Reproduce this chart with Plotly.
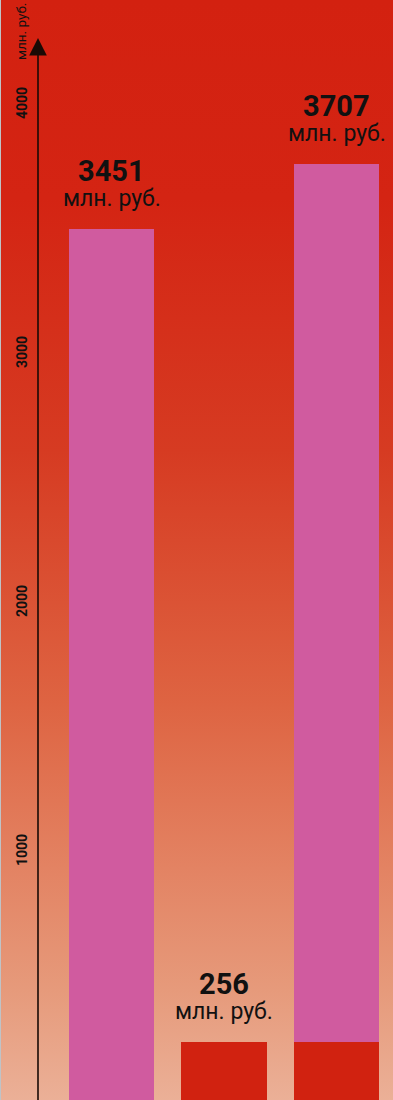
import base64
import plotly.graph_objects as go

# ---- data ----
categories = ["c1", "c2", "c3"]
pink_values = [3451, 0, 3451]
red_values = [0, 256, 256]
totals = [p + r for p, r in zip(pink_values, red_values)]
value_labels = [str(t) for t in totals]
unit_label = "млн. руб."
axis_title = "млн. руб."
tick_values = [1000, 2000, 3000, 4000]
tick_labels = ["1000", "2000", "3000", "4000"]

# ---- style ----
W, H = 393, 1100
PINK = "#D05B9F"
RED = "#D12210"
FONT = "Roboto, 'Liberation Sans', sans-serif"

# category spacing in px and first center
step_px = 112.5
first_center = 111.5
x_range = [-first_center / step_px, (W - first_center) / step_px]

# bar value scale: px per unit and zero pixel
s_bar = 0.2545
zero_bar = 1107
y_range = [(zero_bar - H) / s_bar, zero_bar / s_bar]

# tick-label scale
s_tick = 0.249
zero_tick = 1099
y2_range = [(zero_tick - H) / s_tick, zero_tick / s_tick]

axis_x = x_range[0] + 38 / step_px
arrow_tip = (zero_bar - 38) / s_bar

svg = f'''<svg xmlns="http://www.w3.org/2000/svg" width="{W}" height="{H}" viewBox="0 0 {W} {H}" preserveAspectRatio="none">
<defs><linearGradient id="g" x1="0" y1="0" x2="0" y2="1">
<stop offset="0" stop-color="#D32110"/>
<stop offset="0.18" stop-color="#D42413"/>
<stop offset="0.41" stop-color="#D63B22"/>
<stop offset="0.52" stop-color="#DA4E31"/>
<stop offset="0.64" stop-color="#DE6442"/>
<stop offset="0.79" stop-color="#E38363"/>
<stop offset="0.90" stop-color="#E69A7B"/>
<stop offset="1" stop-color="#EBB097"/>
</linearGradient></defs>
<rect x="0" y="0" width="{W}" height="{H}" fill="url(#g)"/>
</svg>'''
src = "data:image/svg+xml;base64," + base64.b64encode(svg.encode()).decode()

fig = go.Figure()
fig.add_trace(go.Bar(x=categories, y=red_values, marker_color=RED, width=0.756,
                     marker_line_width=0, hoverinfo="skip"))
fig.add_trace(go.Bar(x=categories, y=pink_values, marker_color=PINK, width=0.756,
                     marker_line_width=0, hoverinfo="skip"))

annotations = []
for c, t, lab in zip(categories, totals, value_labels):
    annotations.append(dict(x=c, y=t, xref="x", yref="y", text=f"<b>{lab}</b>",
                            showarrow=False, yanchor="middle", yshift=58,
                            font=dict(family=FONT, size=29, color="#111")))
    annotations.append(dict(x=c, y=t, xref="x", yref="y", text=unit_label,
                            showarrow=False, yanchor="middle", yshift=30,
                            font=dict(family=FONT, size=23, color="#111")))

for v, lab in zip(tick_values, tick_labels):
    annotations.append(dict(x=22 / W, y=v, xref="paper", yref="y2", text=f"<b>{lab}</b>",
                            showarrow=False, textangle=-90, xanchor="center", yanchor="middle",
                            font=dict(family=FONT, size=14, color="#111")))

annotations.append(dict(x=21 / W, y=1 - 32 / H, xref="paper", yref="paper", text=axis_title,
                        showarrow=False, textangle=-90, xanchor="center", yanchor="middle",
                        font=dict(family=FONT, size=13.5, color="#111")))

annotations.append(dict(x=axis_x, y=arrow_tip, xref="x", yref="y", ax=axis_x, ay=0,
                        axref="x", ayref="y", text="", showarrow=True, arrowhead=2,
                        arrowsize=2.2, arrowwidth=1.6, arrowcolor="#1a0a05", standoff=0))

fig.update_layout(
    width=W, height=H, margin=dict(l=0, r=0, t=0, b=0),
    barmode="stack", showlegend=False,
    paper_bgcolor="#D32110", plot_bgcolor="rgba(0,0,0,0)",
    xaxis=dict(type="category", range=x_range, visible=False, fixedrange=True),
    yaxis=dict(range=y_range, visible=False, fixedrange=True),
    yaxis2=dict(range=y2_range, overlaying="y", visible=False, fixedrange=True),
    images=[dict(source=src, xref="paper", yref="paper", x=0, y=1, sizex=1, sizey=1,
                 sizing="stretch", layer="below", xanchor="left", yanchor="top")],
    shapes=[dict(type="rect", xref="paper", yref="paper", x0=0, x1=1 / W, y0=0, y1=1,
                 fillcolor="#BFC3C7", line_width=0, layer="above")],
    annotations=annotations,
)

fig.write_html("out.html", config={"displayModeBar": False})
